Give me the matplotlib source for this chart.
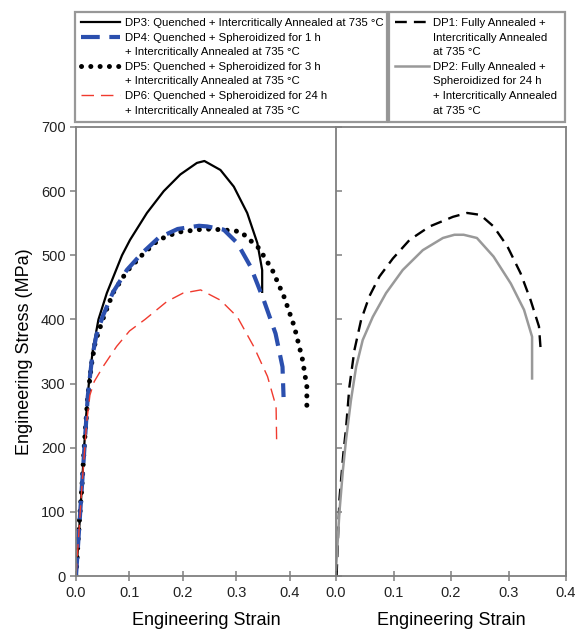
import matplotlib
matplotlib.use('Agg')
import matplotlib.pyplot as plt
from matplotlib.lines import Line2D

plt.rcParams['font.family'] = ['Liberation Sans', 'DejaVu Sans']

# stress-strain readings (strain, MPa)
dp3_strain = [0, 0.005, 0.011, 0.018, 0.025, 0.032, 0.042, 0.0576, 0.086, 0.101, 0.1326, 0.164,
              0.195, 0.226, 0.24, 0.27, 0.295, 0.32, 0.339, 0.348, 0.348]
dp3_stress = [0, 60, 139, 240, 310, 355, 400, 441, 500, 524, 566, 600,
              626, 644, 647, 633, 607, 566, 519, 477, 443]

dp4_strain = [0, 0.011, 0.022, 0.03, 0.038, 0.05, 0.069, 0.095, 0.123, 0.154, 0.19, 0.23,
              0.245, 0.276, 0.3015, 0.3265, 0.351, 0.373, 0.386, 0.388]
dp4_stress = [0, 139, 280, 340, 375, 405, 442, 477, 503, 527, 541, 546,
              545, 540, 519, 482, 430, 378, 326, 279]

dp5_strain = [0, 0.005, 0.011, 0.016, 0.022, 0.029, 0.036, 0.05, 0.069, 0.095, 0.123, 0.154,
              0.19, 0.24, 0.27, 0.3077, 0.342, 0.367, 0.389, 0.408, 0.4235, 0.4315, 0.4315]
dp5_stress = [0, 70, 139, 210, 280, 330, 365, 400, 441, 475, 500, 524,
              536, 541, 540, 537, 511, 477, 435, 389, 337, 295, 253]

dp6_strain = [0, 0.011, 0.02, 0.026, 0.034, 0.051, 0.076, 0.1, 0.129, 0.17, 0.2, 0.233,
              0.27, 0.3015, 0.3327, 0.358, 0.374, 0.375]
dp6_stress = [0, 139, 240, 282, 303, 327, 358, 382, 400, 428, 441, 446,
              430, 404, 357, 311, 264, 212]

dp1_strain = [0.001, 0.006, 0.0128, 0.0174, 0.0233, 0.032, 0.0436, 0.058, 0.0756, 0.0989, 0.128,
              0.163, 0.2035, 0.228, 0.251, 0.274, 0.298, 0.321, 0.3385, 0.353, 0.356]
dp1_stress = [0, 120, 191, 230, 295, 352, 399, 436, 467, 495, 524,
              545, 560, 566, 563, 545, 514, 472, 430, 389, 352]

dp2_strain = [0.0, 0.006, 0.012, 0.0174, 0.026, 0.035, 0.0465, 0.064, 0.087, 0.116, 0.151,
              0.186, 0.206, 0.222, 0.245, 0.274, 0.304, 0.327, 0.341, 0.341]
dp2_stress = [10, 100, 165, 212, 274, 326, 368, 404, 441, 477, 508,
              527, 532, 532, 527, 498, 456, 415, 373, 308]

left_labels = ['DP3: Quenched + Intercritically Annealed at 735 °C',
               'DP4: Quenched + Spheroidized for 1 h', '+ Intercritically Annealed at 735 °C',
               'DP5: Quenched + Spheroidized for 3 h', '+ Intercritically Annealed at 735 °C',
               'DP6: Quenched + Spheroidized for 24 h', '+ Intercritically Annealed at 735 °C']
right_labels = ['DP1: Fully Annealed +', 'Intercritically Annealed', 'at 735 °C',
                'DP2: Fully Annealed +', 'Spheroidized for 24 h',
                '+ Intercritically Annealed', 'at 735 °C']
x_ticks = [0.0, 0.1, 0.2, 0.3, 0.4]
y_ticks = [0, 100, 200, 300, 400, 500, 600, 700]

W, H = 575, 634
fig = plt.figure(figsize=(W / 100, H / 100), dpi=100)

def fx(p):
    return p / W

def fy(p):
    return 1 - p / H

ax1 = fig.add_axes([fx(76), fy(576), fx(336) - fx(76), fy(127) - fy(576)])
ax2 = fig.add_axes([fx(336), fy(576), fx(566) - fx(336), fy(127) - fy(576)])

dot_style = dict(color='black', lw=3.6, linestyle=(0, (0.01, 1.85)), dash_capstyle='round')

l3, = ax1.plot(dp3_strain, dp3_stress, color='black', lw=1.6)
l5, = ax1.plot(dp5_strain, dp5_stress, **dot_style)
l4, = ax1.plot(dp4_strain, dp4_stress, color='#2B4FAE', lw=3.0, linestyle=(0, (4.5, 2.3)))
l6, = ax1.plot(dp6_strain, dp6_stress, color='#F03A2E', lw=1.0, linestyle=(0, (9, 5)))

l1, = ax2.plot(dp1_strain, dp1_stress, color='black', lw=1.7, linestyle=(0, (5, 3)))
l2, = ax2.plot(dp2_strain, dp2_stress, color='#999999', lw=1.8)

spine_col = '#7f7f7f'
for ax, xmax in ((ax1, 0.486), (ax2, 0.4)):
    ax.set_xlim(0, xmax)
    ax.set_ylim(0, 700)
    ax.set_xticks(x_ticks)
    ax.set_xticklabels([f'{t:.1f}' for t in x_ticks])
    ax.set_yticks(y_ticks)
    for s in ax.spines.values():
        s.set_color(spine_col)
        s.set_linewidth(1.3)
    ax.tick_params(axis='x', direction='inout', length=7, width=1.1, color=spine_col,
                   labelsize=10.5, labelcolor='#222222', pad=4)
    ax.set_xlabel('Engineering Strain', fontsize=13, labelpad=8)

ax1.spines['right'].set_visible(False)
ax1.tick_params(axis='y', direction='out', length=4, width=1.1, color=spine_col,
                labelsize=10.5, labelcolor='#222222')
ax1.set_ylabel('Engineering Stress (MPa)', fontsize=13, labelpad=6)
ax2.tick_params(axis='y', direction='in', length=4, width=1.1, color=spine_col,
                labelleft=False)

blank = Line2D([], [], color='none')
leg_kw = dict(loc='upper left', mode='expand', fontsize=8.2, frameon=True, fancybox=False,
              edgecolor=spine_col, labelspacing=0.4, handlelength=3.4, handletextpad=0.4,
              borderpad=0.55, borderaxespad=0)

lh5 = Line2D([], [], **dot_style)
leg1 = fig.legend([l3, l4, blank, lh5, blank, l6, blank], left_labels,
                  bbox_to_anchor=(fx(75), fy(125), fx(387) - fx(75), fy(12) - fy(125)), **leg_kw)
leg1.get_frame().set_linewidth(1.6)

leg2 = fig.legend([l1, blank, blank, l2, blank, blank, blank], right_labels,
                  bbox_to_anchor=(fx(389), fy(125), fx(565) - fx(389), fy(12) - fy(125)),
                  **{**leg_kw, 'handlelength': 3.0, 'handletextpad': 0.35})
leg2.get_frame().set_linewidth(1.6)

fig.savefig('out.png', dpi=100)
